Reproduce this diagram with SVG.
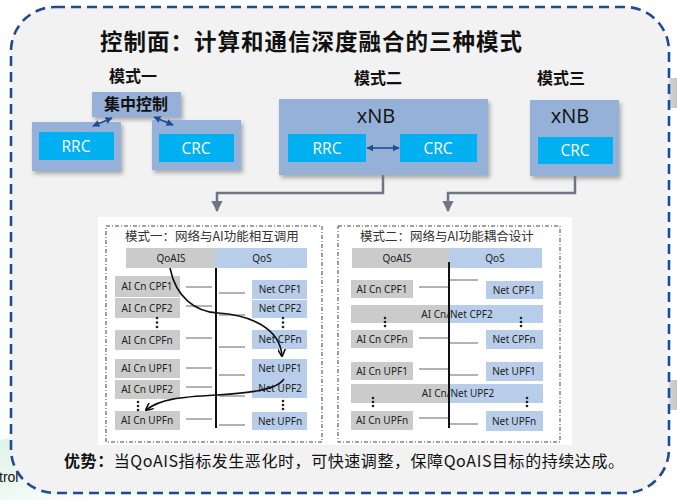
<svg xmlns="http://www.w3.org/2000/svg" width="677" height="500" viewBox="0 0 677 500">
<defs>
<filter id="sh" x="-10%" y="-10%" width="130%" height="140%">
<feDropShadow dx="2" dy="3" stdDeviation="2" flood-color="#000" flood-opacity="0.3"/>
</filter>
<linearGradient id="grn" x1="0" y1="0" x2="1" y2="1">
<stop offset="0" stop-color="#dff3ea"/>
<stop offset="1" stop-color="#ffffff"/>
</linearGradient>
<linearGradient id="chev" x1="0" y1="0" x2="1" y2="0">
<stop offset="0" stop-color="#ececec"/>
<stop offset="1" stop-color="#c4c4c4"/>
</linearGradient>
<marker id="ga" viewBox="0 0 10 10" refX="9" refY="5" markerWidth="4.6" markerHeight="4.6" orient="auto">
<path d="M0,0 L10,5 L0,10 z" fill="#6e7781"/>
</marker>
<marker id="ba" viewBox="0 0 10 10" refX="9" refY="5" markerWidth="4.5" markerHeight="4.5" orient="auto-start-reverse">
<path d="M0,0 L10,5 L0,10 z" fill="#1f4a96"/>
</marker>
<marker id="ka" viewBox="0 0 10 10" refX="9" refY="5" markerWidth="5" markerHeight="5" orient="auto">
<path d="M0,0 L10,5 L0,10" fill="none" stroke="#111" stroke-width="2"/>
</marker>
<style>
.box{fill:#95b1d7;filter:url(#sh)}
.inner{fill:#00b0f0}
.wt{fill:#fff;font-family:"Open Sans","Noto Sans",sans-serif;font-size:15.5px;text-anchor:middle}
.xnb{fill:#111;font-family:"Open Sans","Noto Sans",sans-serif;font-size:20px;text-anchor:middle}
.lbl{fill:#111;font-family:"Noto Sans CJK SC",sans-serif;font-weight:bold;font-size:16px;text-anchor:middle}
.g{fill:#cbcbcb}
.b{fill:#b8cde9}
.st{fill:#222;font-family:"Noto Sans","Noto Sans CJK SC",sans-serif;font-size:10px;text-anchor:middle}
.pt{fill:#333;font-family:"Noto Sans CJK SC",sans-serif;font-size:12.5px}
.ln{stroke:#666;stroke-width:1}
.vl{stroke:#111;stroke-width:2}
.dash{fill:none;stroke:#444;stroke-width:1;stroke-dasharray:4 2 1 2}
.dot{fill:#222}
.cv{fill:none;stroke:#111;stroke-width:1.6}
.gc{fill:none;stroke:#6e7781;stroke-width:2.5}
.bc{stroke:#1f4a96;stroke-width:1.6}
</style>
</defs>
<rect width="677" height="500" fill="#fff"/>
<path d="M0,440 Q40,430 80,470 L110,500 L0,500 z" fill="url(#grn)"/>
<path d="M658,93 L670,78 L677,78 L677,108 L670,108 z" fill="url(#chev)"/>
<path d="M658,395 L670,380 L677,380 L677,410 L670,410 z" fill="url(#chev)"/>
<text x="-1" y="482" font-family="Liberation Sans,sans-serif" font-size="14" fill="#111">trol</text>
<rect x="11" y="7" width="658" height="486" rx="44" ry="44" fill="#f2f2f2" stroke="#1f4a96" stroke-width="2.6" stroke-dasharray="10 6"/>

<text x="100" y="50" font-family="Noto Sans CJK SC,sans-serif" font-weight="bold" font-size="22.5" fill="#111" textLength="422" lengthAdjust="spacing">控制面：计算和通信深度融合的三种模式</text>

<g id="mode1">
<text class="lbl" x="133" y="82">模式一</text>
<rect class="box" x="92" y="92" width="89" height="25"/>
<text class="lbl" x="136" y="110" font-size="15">集中控制</text>
<rect class="box" x="32" y="122" width="89" height="49"/>
<rect class="inner" x="39" y="132" width="75" height="28"/>
<text class="wt" x="76" y="152">RRC</text>
<rect class="box" x="152" y="120" width="89" height="50"/>
<rect class="inner" x="159" y="134" width="75" height="28"/>
<text class="wt" x="196" y="154">CRC</text>
</g>

<g id="mode2">
<text class="lbl" x="378" y="84">模式二</text>
<rect class="box" x="279" y="99" width="209" height="76"/>
<text class="xnb" x="376" y="123">xNB</text>
<rect class="inner" x="288" y="134" width="78" height="28"/>
<text class="wt" x="327" y="154">RRC</text>
<rect class="inner" x="400" y="134" width="77" height="28"/>
<text class="wt" x="438" y="154">CRC</text>
</g>

<g id="mode3">
<text class="lbl" x="561" y="84">模式三</text>
<rect class="box" x="530" y="100" width="89" height="76"/>
<text class="xnb" x="570" y="123">xNB</text>
<rect class="inner" x="538" y="137" width="75" height="27"/>
<text class="wt" x="575" y="156">CRC</text>
</g>

<g id="connectors">
<line class="bc" x1="93" y1="126" x2="112" y2="118" marker-start="url(#ba)" marker-end="url(#ba)"/>
<line class="bc" x1="154" y1="117" x2="173" y2="125" marker-start="url(#ba)" marker-end="url(#ba)"/>
<line class="bc" x1="367" y1="148" x2="399" y2="148" marker-start="url(#ba)" marker-end="url(#ba)"/>
<path class="gc" d="M383,175 V193 H217 V211" marker-end="url(#ga)"/>
<path class="gc" d="M575,176 V193 H448 V211" marker-end="url(#ga)"/>
</g>

<g id="panel">
<rect x="98" y="217" width="474" height="228" fill="#fff"/>
<rect class="dash" x="106" y="226" width="216" height="216"/>
<rect class="dash" x="338" y="226" width="222" height="216"/>
<text class="pt" x="125" y="241">模式一：网络与AI功能相互调用</text>
<text class="pt" x="360" y="241">模式二：网络与AI功能耦合设计</text>
</g>

<g id="mode1-detail">
<rect class="g" x="126" y="248" width="90" height="20"/>
<rect class="b" x="216" y="248" width="91" height="20"/>
<text class="st" x="171" y="262">QoAIS</text>
<text class="st" x="262" y="262">QoS</text>
<rect class="g" x="115" y="276" width="65" height="21"/>
<rect class="g" x="115" y="298" width="65" height="20"/>
<rect class="g" x="115" y="330" width="65" height="20"/>
<rect class="g" x="115" y="359" width="65" height="19"/>
<rect class="g" x="115" y="380" width="65" height="19"/>
<rect class="g" x="115" y="411" width="65" height="19"/>
<text class="st" x="147" y="290">AI Cn CPF1</text>
<text class="st" x="147" y="312">AI Cn CPF2</text>
<text class="st" x="147" y="344">AI Cn CPFn</text>
<text class="st" x="147" y="372">AI Cn UPF1</text>
<text class="st" x="147" y="393">AI Cn UPF2</text>
<text class="st" x="147" y="424">AI Cn UPFn</text>
<rect class="b" x="252" y="280" width="55" height="19"/>
<rect class="b" x="252" y="300" width="55" height="18"/>
<rect class="b" x="252" y="330" width="55" height="19"/>
<rect class="b" x="252" y="359" width="55" height="39"/>
<rect class="b" x="252" y="412" width="55" height="18"/>
<text class="st" x="280" y="293">Net CPF1</text>
<text class="st" x="280" y="312">Net CPF2</text>
<text class="st" x="280" y="343">Net CPFn</text>
<text class="st" x="280" y="372">Net UPF1</text>
<text class="st" x="280" y="392">Net UPF2</text>
<text class="st" x="280" y="425">Net UPFn</text>
<line class="vl" x1="216" y1="268" x2="216" y2="428"/>
<line class="ln" x1="186" y1="287" x2="212" y2="287"/>
<line class="ln" x1="186" y1="306" x2="212" y2="306"/>
<line class="ln" x1="186" y1="338" x2="212" y2="338"/>
<line class="ln" x1="186" y1="368" x2="212" y2="368"/>
<line class="ln" x1="186" y1="387" x2="212" y2="387"/>
<line class="ln" x1="186" y1="419" x2="212" y2="419"/>
<line class="ln" x1="219" y1="293" x2="245" y2="293"/>
<line class="ln" x1="219" y1="315" x2="245" y2="315"/>
<line class="ln" x1="219" y1="347" x2="245" y2="347"/>
<line class="ln" x1="219" y1="375" x2="245" y2="375"/>
<line class="ln" x1="219" y1="396" x2="245" y2="396"/>
<line class="ln" x1="219" y1="425" x2="245" y2="425"/>
<circle class="dot" cx="157" cy="318" r="1.3"/><circle class="dot" cx="157" cy="322.5" r="1.3"/><circle class="dot" cx="157" cy="327" r="1.3"/>
<circle class="dot" cx="283" cy="318" r="1.3"/><circle class="dot" cx="283" cy="322.5" r="1.3"/><circle class="dot" cx="283" cy="327" r="1.3"/>
<circle class="dot" cx="138" cy="402" r="1.3"/><circle class="dot" cx="138" cy="406" r="1.3"/><circle class="dot" cx="138" cy="410" r="1.3"/>
<circle class="dot" cx="283" cy="401" r="1.3"/><circle class="dot" cx="283" cy="405" r="1.3"/><circle class="dot" cx="283" cy="409" r="1.3"/>
<path class="cv" d="M170,268 C176,298 196,312 218,313 C250,315 280,328 282,356" marker-end="url(#ka)"/>
<path class="cv" d="M284,379 C276,391 245,393 216,395 C180,397 160,399 146,410" marker-end="url(#ka)"/>
</g>

<g id="mode2-detail">
<rect class="g" x="352" y="248" width="97" height="20"/>
<rect class="b" x="449" y="248" width="93" height="20"/>
<text class="st" x="397" y="262">QoAIS</text>
<text class="st" x="495" y="262">QoS</text>
<rect class="g" x="351" y="280" width="62" height="18"/>
<rect class="g" x="351" y="330" width="62" height="18"/>
<rect class="g" x="351" y="362" width="62" height="18"/>
<rect class="g" x="351" y="411" width="62" height="19"/>
<text class="st" x="382" y="293">AI Cn CPF1</text>
<text class="st" x="382" y="343">AI Cn CPFn</text>
<text class="st" x="382" y="375">AI Cn UPF1</text>
<text class="st" x="382" y="424">AI Cn UPFn</text>
<rect class="g" x="351" y="305" width="98" height="18"/>
<rect class="b" x="449" y="305" width="94" height="18"/>
<rect class="g" x="351" y="384" width="98" height="19"/>
<rect class="b" x="449" y="384" width="94" height="19"/>
<text class="st" x="457" y="318">AI Cn/Net CPF2</text>
<text class="st" x="458" y="397">AI Cn/Net UPF2</text>
<rect class="b" x="486" y="281" width="57" height="18"/>
<rect class="b" x="486" y="330" width="57" height="19"/>
<rect class="b" x="486" y="362" width="57" height="19"/>
<rect class="b" x="486" y="411" width="57" height="20"/>
<text class="st" x="514" y="294">Net CPF1</text>
<text class="st" x="514" y="343">Net CPFn</text>
<text class="st" x="514" y="375">Net UPF1</text>
<text class="st" x="514" y="425">Net UPFn</text>
<line class="vl" x1="449" y1="262" x2="449" y2="428"/>
<line class="ln" x1="419" y1="287" x2="448" y2="287"/>
<line class="ln" x1="419" y1="338" x2="448" y2="338"/>
<line class="ln" x1="419" y1="369" x2="448" y2="369"/>
<line class="ln" x1="419" y1="418" x2="448" y2="418"/>
<line class="ln" x1="450" y1="280" x2="478" y2="280"/>
<line class="ln" x1="450" y1="343" x2="478" y2="343"/>
<line class="ln" x1="450" y1="375" x2="478" y2="375"/>
<line class="ln" x1="450" y1="424" x2="478" y2="424"/>
<circle class="dot" cx="385" cy="318" r="1.3"/><circle class="dot" cx="385" cy="322" r="1.3"/><circle class="dot" cx="385" cy="326" r="1.3"/>
<circle class="dot" cx="521" cy="318" r="1.3"/><circle class="dot" cx="521" cy="322" r="1.3"/><circle class="dot" cx="521" cy="326" r="1.3"/>
<circle class="dot" cx="373" cy="398" r="1.3"/><circle class="dot" cx="373" cy="402" r="1.3"/><circle class="dot" cx="373" cy="406" r="1.3"/>
<circle class="dot" cx="527" cy="398" r="1.3"/><circle class="dot" cx="527" cy="402" r="1.3"/><circle class="dot" cx="527" cy="406" r="1.3"/>
</g>

<text x="64" y="467" font-family="Noto Sans CJK SC,sans-serif" font-size="16" fill="#111" textLength="560" lengthAdjust="spacing"><tspan font-weight="bold">优势：</tspan>当QoAIS指标发生恶化时，可快速调整，保障QoAIS目标的持续达成。</text>
</svg>
